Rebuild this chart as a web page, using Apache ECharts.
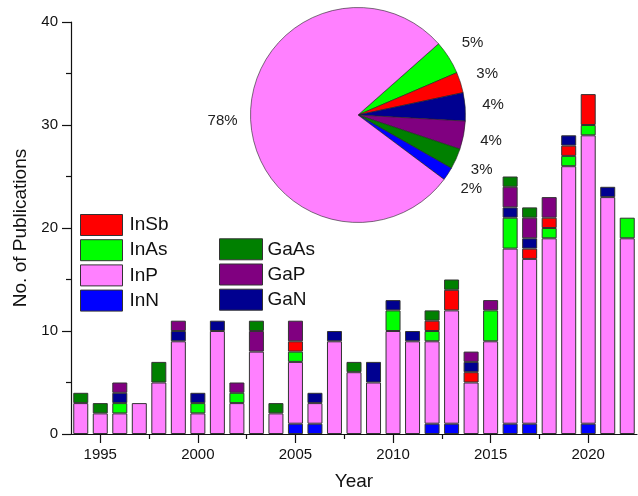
<!DOCTYPE html>
<html>
<head>
<meta charset="utf-8">
<script src="https://cdn.jsdelivr.net/npm/echarts@6/dist/echarts.min.js"></script>
<style>
html,body{margin:0;padding:0;background:#fff;}
#chart{width:638px;height:496px;}
</style>
</head>
<body>
<div id="chart"></div>
<script>
// ---- data (publications per year) ----
var years = [1994,1995,1996,1997,1998,1999,2000,2001,2002,2003,2004,2005,2006,2007,2008,2009,2010,2011,2012,2013,2014,2015,2016,2017,2018,2019,2020,2021,2022];
var InN  = [0,0,0,0,0,0,0,0,0,0,0,1,1,0,0,0,0,0,1,1,0,0,1,1,0,0,1,0,0];
var InP  = [3,2,2,3,5,9,2,10,3,8,2,6,2,9,6,5,10,9,8,11,5,9,17,16,19,26,28,23,19];
var InAs = [0,0,1,0,0,0,1,0,1,0,0,1,0,0,0,0,2,0,1,0,0,3,3,0,1,1,1,0,2];
var InSb = [0,0,0,0,0,0,0,0,0,0,0,1,0,0,0,0,0,0,1,2,1,0,0,1,1,1,3,0,0];
var GaN  = [0,0,1,0,0,1,1,1,0,0,0,0,1,1,0,2,1,1,0,0,1,0,1,1,0,1,0,1,0];
var GaP  = [0,0,1,0,0,1,0,0,1,2,0,2,0,0,0,0,0,0,0,0,1,1,2,2,2,0,0,0,0];
var GaAs = [1,1,0,0,2,0,0,0,0,1,1,0,0,0,1,0,0,0,1,1,0,0,1,1,0,0,0,0,0];
var xLabelValues = [1995,2000,2005,2010,2015,2020];
var xMinorValues = [1997.5,2002.5,2007.5,2012.5,2017.5];

var colors = {InSb:'#FF0000', InAs:'#00FF00', InP:'#FF80FF', InN:'#0000FF', GaAs:'#008000', GaP:'#800080', GaN:'#000090'};
var stackOrder = [['InN',InN],['InP',InP],['InAs',InAs],['InSb',InSb],['GaN',GaN],['GaP',GaP],['GaAs',GaAs]];
var pieOrder = ['InAs','InSb','GaN','GaP','GaAs','InN','InP'];
var seriesMap = {InN:InN,InP:InP,InAs:InAs,InSb:InSb,GaN:GaN,GaP:GaP,GaAs:GaAs};

function sum(a){return a.reduce(function(s,v){return s+v;},0);}
var FONT = '"Liberation Sans", Arial, sans-serif';

var series = stackOrder.map(function(p){
  return {
    name: p[0], type:'bar', stack:'all', barWidth:15,
    xAxisIndex:0, yAxisIndex:0,
    itemStyle:{color:colors[p[0]], borderColor:'#333', borderWidth:1},
    data: p[1].map(function(v){ return v === 0 ? '-' : v; })
  };
});

var pieData = pieOrder.map(function(n){
  return {name:n, value:sum(seriesMap[n]), itemStyle:{color:colors[n]}};
});

series.push({
  type:'pie', name:'share', center:[358,115], radius:107.5, startAngle:41.5, clockwise:true,
  silent:true, animation:false,
  itemStyle:{borderColor:'#222', borderWidth:0.6},
  label:{show:false}, labelLine:{show:false},
  data: pieData
});
series.push({
  type:'pie', name:'shareLabels', center:[358,115], radius:[120,145], startAngle:41.5, clockwise:true,
  silent:true, animation:false,
  itemStyle:{color:'rgba(0,0,0,0)', borderWidth:0},
  label:{show:true, position:'inside', color:'#222', fontSize:15, fontFamily:FONT,
    formatter:function(p){return Math.round(p.percent)+'%';}},
  labelLine:{show:false},
  data: pieData.map(function(d){return {name:d.name, value:d.value};})
});

var chart = echarts.init(document.getElementById('chart'), null, {renderer:'canvas'});
chart.setOption({
  animation:false,
  backgroundColor:'#fff',
  grid:{left:71, right:1, top:22, bottom:59, containLabel:false},
  legend:[
    {data:['InSb','InAs','InP','InN'], orient:'vertical', left:80, top:214, padding:0,
     itemWidth:42, itemHeight:21, itemGap:3.2, icon:'rect', selectedMode:false,
     itemStyle:{borderColor:'#333', borderWidth:1},
     textStyle:{fontSize:19, fontFamily:FONT, color:'#111', padding:[0,0,0,2]}},
    {data:['GaAs','GaP','GaN'], orient:'vertical', left:219, top:238.3, padding:0,
     itemWidth:43, itemHeight:21, itemGap:3.2, icon:'rect', selectedMode:false,
     itemStyle:{borderColor:'#333', borderWidth:1},
     textStyle:{fontSize:19, fontFamily:FONT, color:'#111', padding:[0,0,0,0]}}
  ],
  xAxis:[
    {type:'category', data:years, position:'bottom', boundaryGap:true,
     name:'Year', nameLocation:'middle', nameGap:38,
     nameTextStyle:{fontSize:19, fontFamily:FONT, color:'#111'},
     axisLine:{show:true, onZero:false, lineStyle:{color:'#111', width:1.2}},
     axisTick:{show:false}, axisLabel:{show:false}, splitLine:{show:false}},
    {type:'value', min:1993.5, max:2022.5, position:'bottom',
     axisLine:{show:false},
     axisTick:{show:true, length:9, customValues:xLabelValues, lineStyle:{color:'#111', width:1.2}},
     axisLabel:{show:true, customValues:xLabelValues, margin:13, fontSize:15, fontFamily:FONT, color:'#111',
       formatter:function(v){return String(v);}},
     splitLine:{show:false}},
    {type:'value', min:1993.5, max:2022.5, position:'bottom',
     axisLine:{show:false},
     axisTick:{show:true, length:5, customValues:xMinorValues, lineStyle:{color:'#111', width:1.2}},
     axisLabel:{show:false},
     splitLine:{show:false}}
  ],
  yAxis:{type:'value', min:0, max:40, interval:10,
     name:'No. of Publications', nameLocation:'middle', nameGap:36,
     nameTextStyle:{fontSize:19, fontFamily:FONT, color:'#111'},
     axisLine:{show:true, lineStyle:{color:'#111', width:1.2}},
     axisTick:{show:true, length:9, lineStyle:{color:'#111', width:1.2}},
     minorTick:{show:true, splitNumber:2, length:5, lineStyle:{color:'#111', width:1.2}},
     axisLabel:{margin:13, fontSize:15, fontFamily:FONT, color:'#111'},
     splitLine:{show:false}, minorSplitLine:{show:false}},
  series: series
});
</script>
</body>
</html>
